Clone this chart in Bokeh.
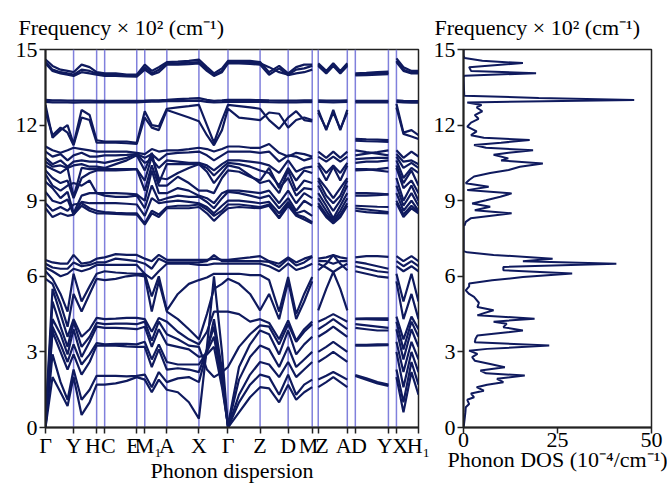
import numpy as np
from bokeh.plotting import figure
from bokeh.layouts import row
from bokeh.models import Range1d, FixedTicker, Span
from bokeh.embed import file_html
from bokeh.resources import INLINE

# ---------------- k-path ----------------
K_TICKS = [0, 28, 51, 59, 91, 99, 121, 153, 182, 214, 242, 266, 272, 301, 309, 342, 350, 372]
K_LABELS = ["Γ", "Y", "H\u2004", "\u2004C", "E\u2004", "\u2004M₁", "A", "X", "Γ", "Z", "D",
            "M\u2004", "\u2004Z", "A\u2004", "\u2004D", "Y\u2004", "\u2004X", "H₁"]
# sample points along the path (high-symmetry points plus intermediate points)
K_POS = [0, 7, 15, 22, 28, 36, 44, 51, 59, 70, 81, 91, 99, 106, 113, 121, 132, 143, 153,
         161, 168, 176, 182, 193, 204, 214, 223, 233, 242, 250, 258, 266,
         272, 280, 287, 294, 301, 309, 320, 331, 342, 350, 357, 365, 372]
BREAK_AFTER = [31, 36, 40]   # path discontinuities M|Z, A|D, Y|X

# ---------------- bands (x 10^2 cm^-1) ----------------
# segments: G-Y(5) Y-H(3) C-E(4) M1-A(4) A-X(3) X-G(4) G-Z(3) Z-M(6) Z-A(5) D-Y(4) X-H1(4)
T1 = [14.6, 14.35, 14.2, 14.15, 14.1, 14.4, 14.3, 14.1, 14.05, 14.05, 14.0, 14.0, 14.4, 14.15, 14.3, 14.5,
      14.52, 14.55, 14.6, 14.3, 14.05, 14.25, 14.55, 14.55, 14.55, 14.5, 14.1, 14.35, 14.05, 14.3, 14.4, 14.4,
      14.45, 14.15, 14.45, 14.15, 14.45, 14.05, 14.07, 14.1, 14.12, 14.65, 14.3, 14.15, 14.15]
T2 = [14.5, 14.2, 14.1, 14.05, 14.0, 14.2, 14.15, 14.05, 14.0, 14.0, 13.97, 13.95, 14.3, 14.05, 14.2, 14.45,
      14.45, 14.48, 14.5, 14.2, 13.98, 14.15, 14.5, 14.5, 14.48, 14.45, 14.3, 14.1, 14.0, 14.2, 14.25, 14.35,
      14.4, 14.1, 14.4, 14.1, 14.4, 14.0, 14.02, 14.05, 14.07, 14.55, 14.2, 14.08, 14.1]
T3 = [14.45, 14.15, 14.05, 14.0, 13.95, 14.1, 14.05, 14.0, 13.95, 13.95, 13.93, 13.92, 14.2, 14.0, 14.1, 14.4,
      14.4, 14.42, 14.45, 14.15, 13.95, 14.1, 14.45, 14.45, 14.43, 14.4, 14.0, 14.25, 13.98, 14.05, 14.1, 14.2,
      14.35, 14.05, 14.35, 14.05, 14.35, 13.97, 13.98, 14.0, 14.02, 14.5, 14.15, 14.05, 14.05]
B13A = [13.0, 12.98, 12.98, 12.97, 12.97, 12.97, 12.97, 12.96, 12.96, 12.96, 12.96, 12.96, 12.97, 12.98, 12.98, 13.0,
        13.03, 13.05, 13.07, 13.0, 12.96, 12.98, 13.0, 13.0, 13.0, 12.99, 12.98, 12.97, 12.97, 12.97, 12.98, 12.98,
        12.98, 12.97, 12.97, 12.97, 12.98, 12.96, 12.96, 12.96, 12.96, 12.98, 12.96, 12.95, 12.95]
B13B = [12.92, 12.9, 12.9, 12.9, 12.89, 12.9, 12.9, 12.9, 12.9, 12.9, 12.9, 12.9, 12.92, 12.93, 12.93, 12.95,
        12.95, 12.96, 12.97, 12.92, 12.9, 12.91, 12.92, 12.92, 12.92, 12.92, 12.91, 12.9, 12.9, 12.9, 12.91, 12.91,
        12.92, 12.91, 12.9, 12.91, 12.92, 12.9, 12.9, 12.9, 12.9, 12.92, 12.9, 12.89, 12.89]
U1 = [12.8, 11.5, 11.8, 12.0, 11.25, 12.6, 12.4, 11.4, 11.35, 11.35, 11.35, 11.3, 12.55, 12.0, 11.95, 12.65,
      12.7, 12.75, 12.8, 12.0, 11.3, 12.2, 12.8, 12.75, 12.7, 12.65, 12.2, 11.85, 12.3, 12.55, 12.2, 12.15,
      12.6, 11.8, 12.6, 11.8, 12.6, 11.45, 11.43, 11.42, 11.4, 12.85, 11.7, 11.8, 11.6]
U2 = [12.5, 11.6, 11.9, 11.7, 11.2, 12.3, 12.2, 11.3, 11.3, 11.3, 11.28, 11.25, 12.3, 11.9, 11.8, 12.6,
      12.45, 12.3, 12.15, 11.6, 11.2, 11.8, 12.65, 12.3, 12.25, 12.2, 12.5, 12.45, 11.9, 12.2, 12.3, 12.2,
      12.5, 11.85, 12.5, 11.85, 12.5, 11.38, 11.36, 11.35, 11.33, 12.7, 11.65, 11.55, 11.45]
M1 = [11.15, 11.0, 10.9, 11.0, 11.1, 11.05, 11.0, 10.95, 10.95, 10.95, 10.95, 10.9, 10.85, 11.05, 10.95, 11.0,
      11.0, 11.05, 11.1, 11.05, 10.95, 11.05, 11.15, 11.15, 11.1, 11.1, 11.25, 10.9, 10.75, 10.9, 10.85, 10.75,
      10.95, 10.7, 10.95, 10.7, 10.95, 11.0, 10.93, 10.87, 10.8, 11.0, 10.7, 10.95, 10.75]
M2 = [10.95, 10.75, 10.85, 10.6, 10.8, 10.9, 10.75, 10.75, 10.8, 10.8, 10.82, 10.85, 10.7, 10.85, 10.6, 10.85,
      10.9, 10.92, 10.95, 10.8, 10.6, 10.8, 10.95, 10.95, 10.95, 10.9, 10.95, 10.55, 10.8, 10.75, 10.6, 10.7,
      10.75, 10.55, 10.75, 10.55, 10.75, 10.8, 10.87, 10.93, 11.0, 10.85, 10.55, 10.6, 10.45]
M3 = [10.7, 10.45, 10.6, 10.35, 10.55, 10.6, 10.55, 10.55, 10.5, 10.6, 10.7, 10.85, 10.5, 10.65, 10.3, 10.6,
      10.55, 10.5, 10.5, 10.4, 10.2, 10.45, 10.6, 10.6, 10.55, 10.5, 10.4, 10.1, 10.6, 10.15, 10.3, 10.35,
      10.5, 10.1, 10.4, 10.1, 10.5, 10.65, 10.68, 10.7, 10.7, 10.75, 10.3, 10.5, 10.3]
M4 = [10.55, 10.35, 10.4, 10.3, 10.4, 10.45, 10.35, 10.35, 10.3, 10.45, 10.6, 10.8, 10.2, 10.9, 9.7, 10.45,
      10.45, 10.45, 10.45, 10.3, 10.0, 10.3, 10.5, 10.45, 10.35, 10.2, 10.1, 9.6, 10.3, 9.8, 10.2, 10.1,
      10.4, 9.8, 10.35, 9.8, 10.4, 10.5, 10.55, 10.55, 10.6, 10.6, 9.9, 10.3, 10.1]
M5 = [10.4, 10.25, 10.1, 10.3, 9.15, 10.3, 10.25, 10.25, 10.25, 10.25, 10.25, 10.25, 9.8, 10.75, 9.9, 9.85,
      10.1, 10.3, 10.45, 10.15, 9.7, 10.1, 10.4, 10.3, 10.0, 9.7, 9.8, 9.3, 10.2, 9.4, 9.8, 9.7,
      9.9, 9.5, 9.1, 9.5, 9.9, 10.25, 10.25, 10.2, 10.15, 10.4, 9.7, 10.2, 9.6]
M6 = [10.2, 9.9, 9.7, 9.8, 9.1, 9.9, 10.1, 10.2, 10.2, 10.2, 10.22, 10.25, 9.4, 10.4, 9.6, 9.6,
      9.95, 9.7, 9.4, 9.4, 9.3, 9.9, 10.2, 10.15, 9.95, 9.8, 10.3, 9.5, 9.9, 9.2, 9.5, 9.45,
      9.8, 9.2, 8.9, 9.2, 9.8, 10.2, 10.22, 10.25, 10.3, 10.3, 9.5, 9.8, 9.3]
M7 = [10.05, 9.6, 9.4, 9.6, 9.7, 9.6, 9.8, 9.3, 9.3, 9.3, 9.28, 9.25, 9.0, 10.2, 9.3, 9.3,
      9.5, 9.4, 9.2, 9.1, 8.9, 9.3, 9.4, 9.4, 9.35, 9.3, 9.4, 8.9, 9.4, 8.9, 9.3, 9.1,
      9.6, 9.0, 8.6, 9.0, 9.6, 9.3, 9.3, 9.28, 9.25, 9.9, 9.0, 9.6, 9.0]
M8 = [9.75, 9.5, 9.1, 9.35, 8.5, 9.2, 9.3, 9.3, 9.2, 9.15, 9.15, 9.2, 8.7, 9.6, 9.0, 9.1,
      9.2, 9.15, 9.15, 8.95, 8.7, 9.1, 9.35, 9.3, 9.2, 9.1, 9.2, 8.7, 9.1, 8.6, 9.0, 8.8,
      9.3, 8.8, 8.3, 8.8, 9.3, 9.2, 9.2, 9.22, 9.25, 9.6, 8.8, 9.3, 8.8]
M9 = [9.35, 9.0, 8.9, 9.05, 8.45, 8.95, 8.9, 8.9, 8.9, 8.9, 8.88, 8.85, 8.4, 9.1, 8.9, 8.95,
      9.0, 8.95, 8.9, 8.75, 8.5, 8.8, 9.0, 9.0, 8.95, 8.9, 8.95, 8.5, 8.95, 8.5, 8.6, 8.4,
      9.1, 8.6, 8.2, 8.6, 9.1, 8.8, 8.78, 8.76, 8.75, 9.3, 8.6, 9.0, 8.6]
M10 = [8.9, 8.6, 8.75, 8.6, 8.85, 8.9, 8.7, 8.6, 8.55, 8.52, 8.5, 8.5, 8.1, 8.6, 8.45, 8.75,
       8.8, 8.8, 8.85, 8.65, 8.4, 8.6, 8.85, 8.85, 8.8, 8.75, 8.85, 8.35, 8.9, 8.45, 8.35, 8.15,
       8.9, 8.45, 8.15, 8.45, 8.9, 8.7, 8.65, 8.6, 8.55, 9.0, 8.45, 8.8, 8.55]
M11 = [8.7, 8.35, 8.5, 8.4, 8.45, 8.8, 8.6, 8.5, 8.5, 8.48, 8.46, 8.45, 8.05, 8.5, 8.35, 8.7,
       8.7, 8.7, 8.75, 8.5, 8.2, 8.5, 8.7, 8.75, 8.72, 8.7, 8.8, 8.3, 8.8, 8.4, 8.25, 8.1,
       8.8, 8.35, 8.1, 8.35, 8.8, 8.6, 8.55, 8.52, 8.5, 8.9, 8.35, 8.7, 8.5]
L1 = [0.0, 2.0, 1.4, 0.85, 2.0, 0.5, 1.0, 1.7, 1.7, 1.75, 1.85, 2.0, 1.9, 1.4, 1.9, 1.5,
      1.4, 1.0, 0.35, 3.2, 6.0, 3.0, 0.0, 0.6, 1.2, 1.6, 1.55, 1.0, 1.7, 1.1, 1.4, 1.6,
      1.6, 1.8, 2.0, 1.8, 1.6, 2.05, 1.9, 1.75, 1.65, 2.0, 0.6, 2.2, 1.3]
L2 = [0.0, 2.9, 1.8, 1.1, 2.3, 1.1, 1.5, 2.05, 2.05, 2.05, 2.03, 2.05, 2.1, 1.6, 2.2, 1.8,
      1.95, 2.0, 1.8, 3.0, 4.3, 2.3, 0.0, 1.0, 1.7, 2.1, 2.0, 1.3, 2.1, 1.3, 1.7, 1.9,
      1.9, 2.05, 2.2, 2.05, 1.9, 2.08, 1.95, 1.8, 1.7, 2.3, 1.0, 2.6, 1.7]
L3 = [0.0, 3.8, 3.0, 2.3, 2.9, 2.1, 2.6, 3.25, 3.25, 3.25, 3.22, 3.2, 3.2, 2.4, 3.1, 2.3,
      2.35, 2.3, 2.2, 3.1, 4.0, 2.0, 0.0, 1.3, 2.1, 2.6, 2.5, 2.0, 2.6, 2.0, 2.3, 2.6,
      2.6, 2.8, 3.0, 2.8, 2.6, 3.25, 3.25, 3.26, 3.27, 3.0, 1.6, 3.0, 2.2]
L4 = [0.05, 4.0, 3.3, 2.6, 3.3, 2.5, 2.9, 3.35, 3.3, 3.32, 3.32, 3.3, 3.4, 2.7, 3.3, 2.6,
      2.5, 2.5, 2.5, 3.0, 3.6, 1.8, 0.05, 1.9, 2.8, 3.25, 3.1, 2.4, 3.2, 2.4, 2.7, 3.0,
      3.0, 3.2, 3.4, 3.2, 3.0, 3.28, 3.28, 3.3, 3.3, 3.4, 2.2, 3.4, 2.7]
L5 = [0.1, 4.3, 3.7, 2.9, 3.9, 2.8, 3.4, 4.0, 3.95, 3.95, 3.93, 3.9, 4.0, 3.2, 3.9, 3.3,
      3.2, 3.1, 2.8, 2.9, 3.2, 1.6, 0.1, 2.4, 3.3, 3.85, 3.7, 2.9, 3.85, 2.9, 3.3, 3.6,
      3.6, 3.8, 4.0, 3.8, 3.6, 3.95, 3.9, 3.85, 3.85, 3.9, 2.7, 3.9, 3.2]
L6 = [0.2, 5.0, 4.0, 3.2, 4.2, 3.2, 3.6, 4.15, 4.1, 4.12, 4.12, 4.1, 4.2, 3.45, 4.2, 3.7,
      3.5, 3.25, 3.2, 2.3, 2.0, 2.2, 2.4, 3.2, 3.7, 4.05, 4.0, 3.3, 4.1, 3.4, 3.8, 4.1,
      3.9, 4.1, 4.3, 4.1, 3.9, 4.1, 4.05, 4.0, 3.95, 4.2, 3.1, 4.2, 3.6]
L7 = [0.3, 5.5, 4.5, 3.6, 4.3, 3.6, 3.9, 4.35, 4.3, 4.32, 4.35, 4.35, 4.3, 3.8, 4.35, 4.2,
      3.8, 3.5, 3.3, 3.8, 4.6, 4.6, 4.6, 4.5, 4.2, 4.3, 4.15, 3.5, 4.25, 3.45, 3.9, 4.2,
      4.2, 4.35, 4.5, 4.35, 4.2, 4.3, 4.3, 4.28, 4.27, 4.4, 3.5, 4.4, 3.9]
L8 = [5.9, 5.7, 4.9, 4.0, 5.3, 4.6, 5.3, 5.9, 5.85, 5.9, 6.0, 6.05, 6.0, 4.6, 5.8, 4.6,
      4.3, 3.9, 3.5, 4.5, 5.5, 5.7, 5.9, 5.7, 5.3, 4.65, 5.3, 4.3, 5.8, 4.3, 5.0, 5.8,
      4.65, 5.5, 6.17, 5.5, 4.65, 4.32, 4.33, 4.33, 4.33, 5.8, 4.3, 5.3, 4.3]
L9 = [6.2, 5.9, 5.3, 4.6, 6.1, 5.0, 5.6, 6.1, 6.2, 6.15, 6.12, 6.1, 6.1, 5.2, 6.0, 4.65,
      5.3, 5.7, 5.85, 5.95, 6.1, 6.1, 6.1, 6.1, 6.05, 6.05, 5.85, 4.6, 5.97, 4.5, 5.3, 5.97,
      6.24, 6.5, 6.84, 6.5, 6.24, 6.2, 6.1, 6.0, 5.95, 6.1, 5.0, 6.1, 5.0]
L10 = [6.35, 6.2, 6.0, 6.1, 6.3, 6.2, 6.3, 6.45, 6.45, 6.45, 6.45, 6.45, 6.1, 5.9, 6.2, 6.5,
       6.5, 6.5, 6.45, 6.45, 6.5, 6.5, 6.5, 6.5, 6.5, 6.5, 6.4, 6.2, 6.5, 6.25, 6.35, 6.5,
       6.5, 6.35, 6.17, 6.35, 6.5, 6.4, 6.3, 6.2, 6.15, 6.4, 6.2, 6.4, 6.2]
L11 = [6.5, 6.35, 6.3, 6.3, 6.55, 6.4, 6.45, 6.55, 6.55, 6.7, 6.65, 6.6, 6.5, 6.3, 6.7, 6.55,
       6.55, 6.55, 6.55, 6.6, 6.84, 6.6, 6.6, 6.6, 6.6, 6.6, 6.57, 6.37, 6.7, 6.43, 6.55, 6.77,
       6.6, 6.6, 6.5, 6.6, 6.6, 6.57, 6.5, 6.4, 6.3, 6.6, 6.4, 6.6, 6.4]
L12 = [6.65, 6.55, 6.5, 6.5, 6.85, 6.5, 6.55, 6.7, 6.75, 6.88, 6.85, 6.85, 6.7, 6.6, 6.85, 6.65,
       6.65, 6.65, 6.65, 6.65, 6.7, 6.65, 6.65, 6.7, 6.75, 6.8, 6.6, 6.5, 6.75, 6.55, 6.7, 6.8,
       6.7, 6.75, 6.84, 6.75, 6.7, 6.75, 6.8, 6.8, 6.77, 6.8, 6.6, 6.8, 6.6]

# ---------------- phonon DOS (10^-4 / cm^-1) ----------------
DOS_FREQ = [0.0, 0.2, 0.4, 0.6, 0.8, 0.93, 1.1, 1.2, 1.35, 1.46, 1.6, 1.7, 1.8, 1.93, 2.06, 2.15, 2.26,
            2.39, 2.52, 2.65, 2.79, 2.92, 3.05, 3.12, 3.25, 3.38, 3.52, 3.65, 3.72, 3.85, 3.98, 4.12,
            4.2, 4.32, 4.45, 4.52, 4.65, 4.78, 4.95, 5.18, 5.3, 5.44, 5.6, 5.71, 5.84, 5.97, 6.11,
            6.24, 6.37, 6.5, 6.6, 6.7, 6.85, 6.95, 7.0, 8.0, 8.03, 8.16, 8.3, 8.5, 8.62, 8.76, 8.89,
            9.02, 9.16, 9.29, 9.42, 9.55, 9.69, 9.82, 9.96, 10.1, 10.22, 10.35, 10.48, 10.6, 10.68,
            10.82, 10.9, 11.0, 11.1, 11.21, 11.3, 11.41, 11.5, 11.6, 11.75, 11.94, 12.1, 12.25, 12.4,
            12.55, 12.7, 12.8, 12.9, 13.0, 13.08, 13.16, 13.9, 13.96, 14.06, 14.15, 14.3, 14.46,
            14.55, 14.66, 14.75, 15.0]
DOS_VAL = [0.0, 0.2, 0.35, 0.5, 0.6, 1.5, 1.0, 2.8, 2.0, 5.4, 3.5, 6.3, 10.6, 8.9, 16.3, 6.0, 4.5,
           11.0, 7.1, 3.0, 2.3, 3.7, 1.5, 6.3, 22.8, 3.0, 3.2, 3.7, 8.0, 15.8, 10.6, 11.5,
           8.0, 18.9, 3.7, 5.0, 8.0, 3.7, 4.1, 2.8, 1.5, 0.6, 1.5, 1.5, 7.6, 15.8, 28.9,
           10.6, 10.6, 40.65, 15.8, 23.7, 8.0, 1.0, 0.0, 0.0, 0.3, 0.6, 1.9, 12.8, 3.0, 7.1, 2.3,
           6.0, 9.8, 12.8, 1.0, 6.7, 0.6, 1.5, 2.8, 7.1, 12.0, 15.0, 21.1, 10.0, 11.9,
           8.0, 12.0, 18.5, 6.0, 2.8, 10.0, 17.6, 5.4, 2.0, 3.5, 1.0, 2.0, 4.0, 3.0,
           5.0, 3.5, 4.8, 1.0, 45.4, 20.0, 0.2, 0.0, 0.3, 19.3, 2.0, 1.5, 15.8,
           5.0, 0.3, 0.0, 0.0]

Y_TICKS = [0, 3, 6, 9, 12, 15]
DOS_TICKS = [0, 25, 50]

BANDS = [L1, L2, L3, L4, L5, L6, L7, L8, L9, L10, L11, L12,
         M1, M2, M3, M4, M5, M6, M7, M8, M9, M10, M11, U1, U2, B13A, B13B, T1, T2, T3]

FONT = "Liberation Serif"
NAVY = "#0f1a5e"
VLINE = "#8080dc"
HEADER = "Frequency × 10² (cm⁻¹)"


def with_breaks(vals):
    out = []
    for i, v in enumerate(vals):
        out.append(v)
        if i in BREAK_AFTER:
            out.append(np.nan)
    return np.array(out, dtype=float)


def style(p, title_offset, xlabel):
    p.title.text = HEADER
    p.title.align = "left"
    p.title.vertical_align = "top"
    p.title.standoff = 15
    p.title.offset = title_offset
    p.title.text_font = FONT
    p.title.text_font_size = "22px"
    p.title.text_font_style = "normal"
    p.title.text_color = "black"
    p.xgrid.visible = False
    p.ygrid.visible = False
    p.outline_line_color = "#222222"
    p.outline_line_width = 1.5
    p.background_fill_color = "white"
    p.border_fill_color = "white"
    for ax in (p.xaxis[0], p.yaxis[0]):
        ax.axis_line_width = 2
        ax.axis_line_color = "#222222"
        ax.major_tick_out = 6
        ax.major_tick_in = 0
        ax.minor_tick_out = 0
        ax.minor_tick_in = 0
        ax.major_tick_line_width = 1.5
        ax.major_tick_line_color = "#222222"
        ax.major_label_text_font = FONT
        ax.major_label_text_font_size = "22px"
        ax.major_label_text_color = "black"
    xa = p.xaxis[0]
    xa.major_label_standoff = -1
    xa.axis_label = xlabel
    xa.axis_label_text_font = FONT
    xa.axis_label_text_font_size = "22px"
    xa.axis_label_text_font_style = "normal"
    xa.axis_label_text_color = "black"
    xa.axis_label_standoff = -3
    p.yaxis[0].major_label_standoff = 2
    p.yaxis[0].ticker = FixedTicker(ticks=Y_TICKS)


p1 = figure(width=430, height=485, x_range=Range1d(0, 372), y_range=Range1d(0, 15),
            output_backend="svg", toolbar_location=None,
            min_border_left=45, min_border_right=12, min_border_top=49, min_border_bottom=58)
style(p1, -27, "Phonon dispersion")
p1.xaxis[0].ticker = FixedTicker(ticks=K_TICKS)
p1.xaxis[0].major_label_overrides = {t: lab for t, lab in zip(K_TICKS, K_LABELS)}

for t in K_TICKS[1:-1]:
    p1.add_layout(Span(location=t, dimension="height", line_color=VLINE, line_width=1.5, level="underlay"))

for band in BANDS:
    n = min(len(band), len(K_POS))
    p1.line(with_breaks(K_POS[:n]), with_breaks(band[:n]), line_color=NAVY, line_width=2.2)

p2 = figure(width=237, height=485, x_range=Range1d(0, 50), y_range=Range1d(0, 15),
            output_backend="svg", toolbar_location=None,
            min_border_left=29, min_border_right=16, min_border_top=49, min_border_bottom=58)
style(p2, -29, "Phonon DOS (10⁻⁴/cm⁻¹)")
p2.xaxis[0].ticker = FixedTicker(ticks=DOS_TICKS)
p2.line(DOS_VAL, DOS_FREQ, line_color=NAVY, line_width=2.0)

layout = row(p1, p2)
open("out.html", "w").write(file_html(layout, INLINE))
